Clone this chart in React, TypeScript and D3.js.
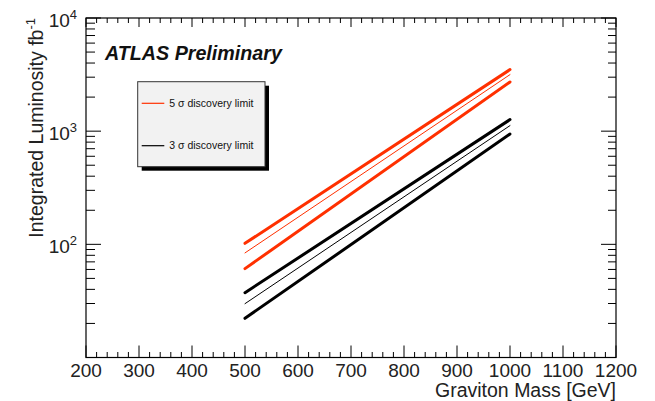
import React from "react";
import * as d3 from "d3";

const W = 655;
const H = 401;

// masses (GeV)
const masses = [500, 1000];
// 5 sigma curves (fb^-1)
const red5Upper = [102, 3500];
const red5Central = [84, 3160];
const red5Lower = [61, 2720];
// 3 sigma curves
const black3Upper = [37.4, 1265];
const black3Central = [29.9, 1120];
const black3Lower = [22.2, 944];

const xTicks = [200, 300, 400, 500, 600, 700, 800, 900, 1000, 1100, 1200];
const yDecades = [10, 100, 1000, 10000];
const yLabels = [
  { v: 100, exp: "2" },
  { v: 1000, exp: "3" },
  { v: 10000, exp: "4" },
];

const legendItems = [
  { label: "5 σ discovery limit", color: "#ff3000" },
  { label: "3 σ discovery limit", color: "#000000" },
];

const RED = "#ff3000";
const FONT = "'Liberation Sans', Arial, Helvetica, sans-serif";

export default function App() {
  const L = 86, R = 616, T = 18, B = 357.5;
  const x = d3.scaleLinear().domain([200, 1200]).range([L, R]);
  const y = d3.scaleLog().domain([10, 10000]).range([B, T]);

  const line = d3
    .line<[number, number]>()
    .x((d) => x(d[0]))
    .y((d) => y(d[1]));

  const series = [
    { vals: red5Upper, color: RED, w: 3 },
    { vals: red5Central, color: RED, w: 1 },
    { vals: red5Lower, color: RED, w: 3 },
    { vals: black3Upper, color: "#000", w: 3 },
    { vals: black3Central, color: "#000", w: 1 },
    { vals: black3Lower, color: "#000", w: 3 },
  ];

  const xMinor = d3.range(200, 1201, 20).filter((v) => v % 100 !== 0);
  const yMinor: number[] = [];
  for (const dec of [10, 100, 1000]) {
    for (let k = 2; k <= 9; k++) yMinor.push(dec * k);
  }

  return (
    <svg width={W} height={H} style={{ display: "block", position: "absolute", left: 0, top: 0 }}>
      <rect x={0} y={0} width={W} height={H} fill="#fff" />
      {/* lines */}
      {series.map((s, i) => (
        <path
          key={i}
          d={line(masses.map((m, j) => [m, s.vals[j]]) as [number, number][]) || ""}
          fill="none"
          stroke={s.color}
          strokeWidth={s.w}
          strokeLinecap="round"
        />
      ))}
      {/* frame */}
      <rect x={L} y={T} width={R - L} height={B - T} fill="none" stroke="#000" strokeWidth={1.2} />
      {/* x ticks */}
      {xTicks.map((v) => (
        <g key={"xt" + v}>
          <line x1={x(v)} x2={x(v)} y1={B} y2={B - 12} stroke="#000" strokeWidth={1} />
          <line x1={x(v)} x2={x(v)} y1={T} y2={T + 9} stroke="#000" strokeWidth={1} />
          <text x={x(v)} y={B + 19} textAnchor="middle" fontFamily={FONT} fontSize={19} fill="#222">
            {v}
          </text>
        </g>
      ))}
      {xMinor.map((v) => (
        <g key={"xm" + v}>
          <line x1={x(v)} x2={x(v)} y1={B} y2={B - 5.5} stroke="#000" strokeWidth={1} />
          <line x1={x(v)} x2={x(v)} y1={T} y2={T + 5} stroke="#000" strokeWidth={1} />
        </g>
      ))}
      {/* y ticks */}
      {yDecades.map((v) => (
        <g key={"yt" + v}>
          <line x1={L} x2={L + 15} y1={y(v)} y2={y(v)} stroke="#000" strokeWidth={1} />
          <line x1={R} x2={R - 15} y1={y(v)} y2={y(v)} stroke="#000" strokeWidth={1} />
        </g>
      ))}
      {yMinor.map((v) => (
        <g key={"ym" + v}>
          <line x1={L} x2={L + 9} y1={y(v)} y2={y(v)} stroke="#000" strokeWidth={1} />
          <line x1={R} x2={R - 8} y1={y(v)} y2={y(v)} stroke="#000" strokeWidth={1} />
        </g>
      ))}
      {yLabels.map((d) => (
        <text key={"yl" + d.v} x={L - 9} y={y(d.v) + 9} textAnchor="end" fontFamily={FONT} fontSize={19} fill="#222">
          10
          <tspan dy={-8.5} fontSize={13}>
            {d.exp}
          </tspan>
        </text>
      ))}
      {/* axis titles */}
      <text x={R} y={H - 4} textAnchor="end" fontFamily={FONT} fontSize={19.5} fill="#222">
        Graviton Mass [GeV]
      </text>
      <text
        transform={`translate(43,${T}) rotate(-90)`}
        textAnchor="end"
        fontFamily={FONT}
        fontSize={19.5}
        fill="#222"
      >
        Integrated Luminosity fb
        <tspan dy={-8} fontSize={13}>
          -1
        </tspan>
      </text>
      {/* ATLAS label */}
      <text x={105} y={60} fontFamily={FONT} fontSize={19.7} fontWeight="bold" fontStyle="italic" fill="#111">
        ATLAS Preliminary
      </text>
      {/* legend */}
      <rect x={141.7} y={85.7} width={127.3} height={85} fill="#000" />
      <rect x={137.7} y={81.7} width={127.3} height={85} fill="#f2f2f2" stroke="#333" strokeWidth={1} />
      {legendItems.map((it, i) => {
        const ly = 103.3 + i * 42.4;
        return (
          <g key={it.label}>
            <line x1={141.7} x2={164.3} y1={ly} y2={ly} stroke={it.color} strokeWidth={1.2} />
            <text x={169.3} y={ly + 3.6} fontFamily={FONT} fontSize={10.5} fill="#111">
              {it.label}
            </text>
          </g>
        );
      })}
    </svg>
  );
}
